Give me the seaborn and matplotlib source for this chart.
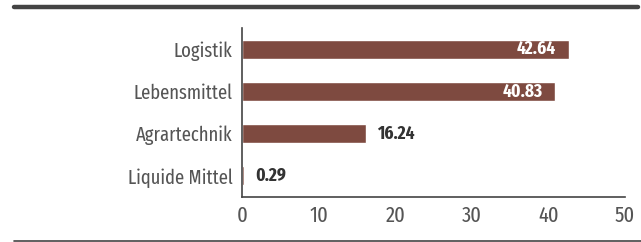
import matplotlib
matplotlib.use('Agg')
import matplotlib.pyplot as plt
from matplotlib.lines import Line2D
import seaborn as sns
import pandas as pd

# Daten
kategorien = ['Logistik', 'Lebensmittel', 'Agrartechnik', 'Liquide Mittel']
werte = [42.64, 40.83, 16.24, 0.29]
x_ticks = [0, 10, 20, 30, 40, 50]

df = pd.DataFrame({'Kategorie': kategorien, 'Wert': werte})

sns.set_style('white')
plt.rcParams['font.family'] = ['Fira Sans Extra Condensed', 'DejaVu Sans']

fig = plt.figure(figsize=(6.41, 2.42), dpi=100)
ax = fig.add_axes([242 / 641, 1 - 197 / 242, (625 - 242) / 641, (197 - 28) / 242])

sns.barplot(data=df, x='Wert', y='Kategorie', color='#7e4a40', width=0.45,
            saturation=1, ax=ax)

ax.set_xlim(0, 50)
ax.set_xticks(x_ticks)
ax.set_xlabel('')
ax.set_ylabel('')
ax.tick_params(axis='y', length=0, labelsize=14.5, colors='#555555', pad=7)
ax.tick_params(axis='x', length=0, labelsize=16, colors='#555555', pad=6)
for s in ['top', 'right']:
    ax.spines[s].set_visible(False)
for s in ['left', 'bottom']:
    ax.spines[s].set_color('#444444')
    ax.spines[s].set_linewidth(1.2)

# Werte an den Balken
for i, v in enumerate(werte):
    if v > 30:
        ax.annotate(f'{v:.2f}', (v, i), xytext=(-9, 0), textcoords='offset points',
                    ha='right', va='center', color='white', fontsize=13.5, fontweight='bold')
    else:
        ax.annotate(f'{v:.2f}', (v, i), xytext=(8, 0), textcoords='offset points',
                    ha='left', va='center', color='#333333', fontsize=13.5, fontweight='bold')

# Linien oben und unten
fig.add_artist(Line2D([14 / 641, 638 / 641], [1 - 7 / 242] * 2, color='#444444', lw=3.2))
fig.add_artist(Line2D([14 / 641, 1], [1 - 240.5 / 242] * 2, color='#444444', lw=1.2))

fig.savefig('out.png', dpi=100)
